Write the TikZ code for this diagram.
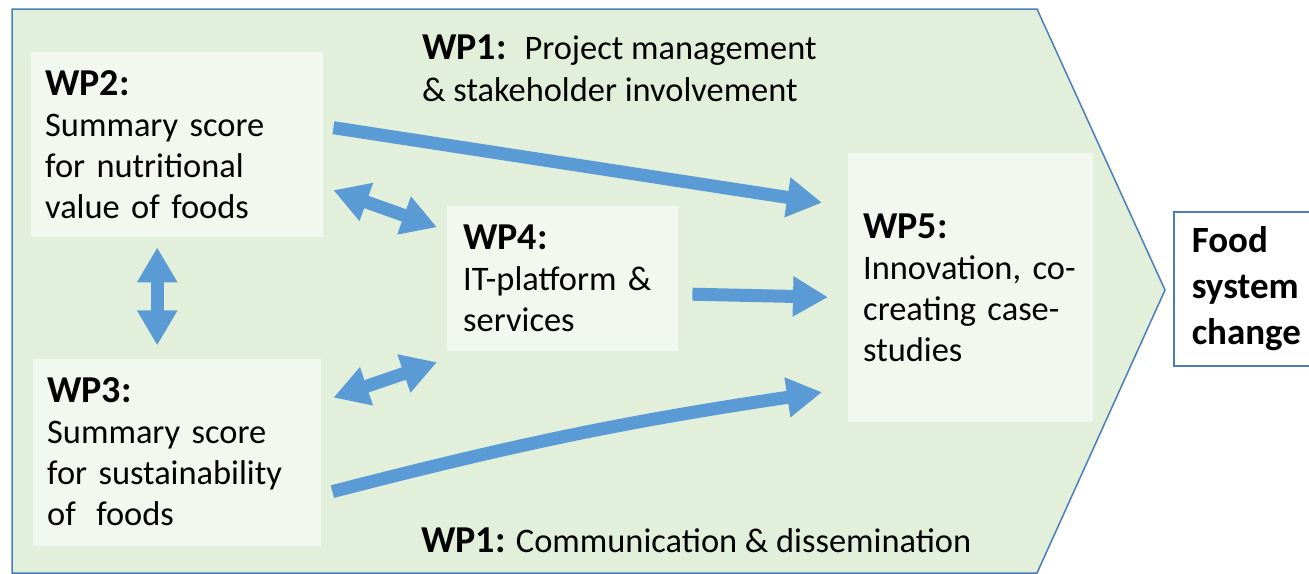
\documentclass[tikz,border=0pt]{standalone}
\usepackage{fontspec}
\setmainfont{Carlito}
\usepackage{xcolor}
\usepackage{tikz}
\usetikzlibrary{positioning}
\usetikzlibrary{arrows.meta}

\definecolor{wpgreen}{HTML}{E2EFDA}
\definecolor{boxfill}{HTML}{F2F7EF}
\definecolor{arrowblue}{HTML}{5B9BD5}
\definecolor{edgeblue}{HTML}{4A7EBB}

\newcommand{\wphead}[1]{{\fontsize{38}{42}\selectfont\bfseries #1}}

\begin{document}
\begin{tikzpicture}[x=1pt, y=-1pt,
  wp/.style={fill=boxfill, inner xsep=14pt, inner ysep=0pt, align=left, font=\fontsize{34.4}{41}\selectfont},
  flow/.style={draw=arrowblue, line width=13pt, -{Triangle[width=38pt,length=35pt]}},
  twoway/.style={draw=arrowblue, line width=13pt, {Triangle[width=38pt,length=35pt]}-{Triangle[width=38pt,length=35pt]}}]
\useasboundingbox (0,0) rectangle (1309,573);

% outer arrow shape
\draw[draw=edgeblue, line width=1.5pt, fill=wpgreen] (12,9) -- (1037,9) -- (1165,290) -- (1037,573) -- (12,573) -- cycle;

\node [wp, anchor=north west, text width=264pt, minimum height=185pt] (wp2) at (31,52) {\wphead{WP2:}\\Summary score\\for nutritional\\value of foods};
\node [wp, below=121pt of wp2, text width=260pt, minimum height=187pt] (wp3) {\wphead{WP3:}\\Summary score\\for sustainability\\of\hspace{9pt} foods};
\node [wp, anchor=north west, text width=199pt, inner xsep=16pt, minimum height=145pt] (wp4) at (447,206) {\wphead{WP4:}\\IT-platform \&\\services};
\node [wp, anchor=north west, text width=215pt, inner xsep=15pt, minimum height=269pt] (wp5) at (848,153) {\wphead{WP5:}\\Innovation, co-\\creating case-\\studies};
\node [anchor=north west, draw=edgeblue, line width=1.5pt, fill=white, text width=120pt, inner xsep=18pt, inner ysep=0pt, minimum height=154pt, align=left, font=\fontsize{37}{46}\selectfont\bfseries] (food) at (1173,211) {Food\\system\\change};

% WP1 labels
\node [anchor=north west, inner sep=0pt, align=left, font=\fontsize{34.4}{42}\selectfont] (wp1top) at (422,35) {\wphead{WP1:}\hspace{18pt}Project management\\\& stakeholder involvement};
\node [anchor=base west, inner sep=0pt, font=\fontsize{34.4}{42}\selectfont] (wp1bottom) at (421,552) {\wphead{WP1:} Communication \& dissemination};

% arrows
\draw [flow] ([shift={(10pt,17pt)}]wp2.east) -- ([shift={(-26pt,85pt)}]wp5.west);
\draw [flow] ([shift={(14pt,-15.5pt)}]wp4.east) -- ([shift={(-20pt,-9.5pt)}]wp5.west);
\draw [flow] ([shift={(11pt,-39.5pt)}]wp3.east) to[bend left=3] ([shift={(-26pt,-104.5pt)}]wp5.west);
\draw [twoway] ([shift={(10pt,-45.5pt)}]wp2.east) -- ([shift={(-10pt,51.5pt)}]wp4.west);
\draw [twoway] ([shift={(12pt,54.5pt)}]wp3.east) -- ([shift={(-10pt,-83.5pt)}]wp4.west);
\draw [twoway] ([shift={(-20pt,-10pt)}]wp2.south) -- ([shift={(-20pt,13pt)}]wp3.north);
\end{tikzpicture}
\end{document}
